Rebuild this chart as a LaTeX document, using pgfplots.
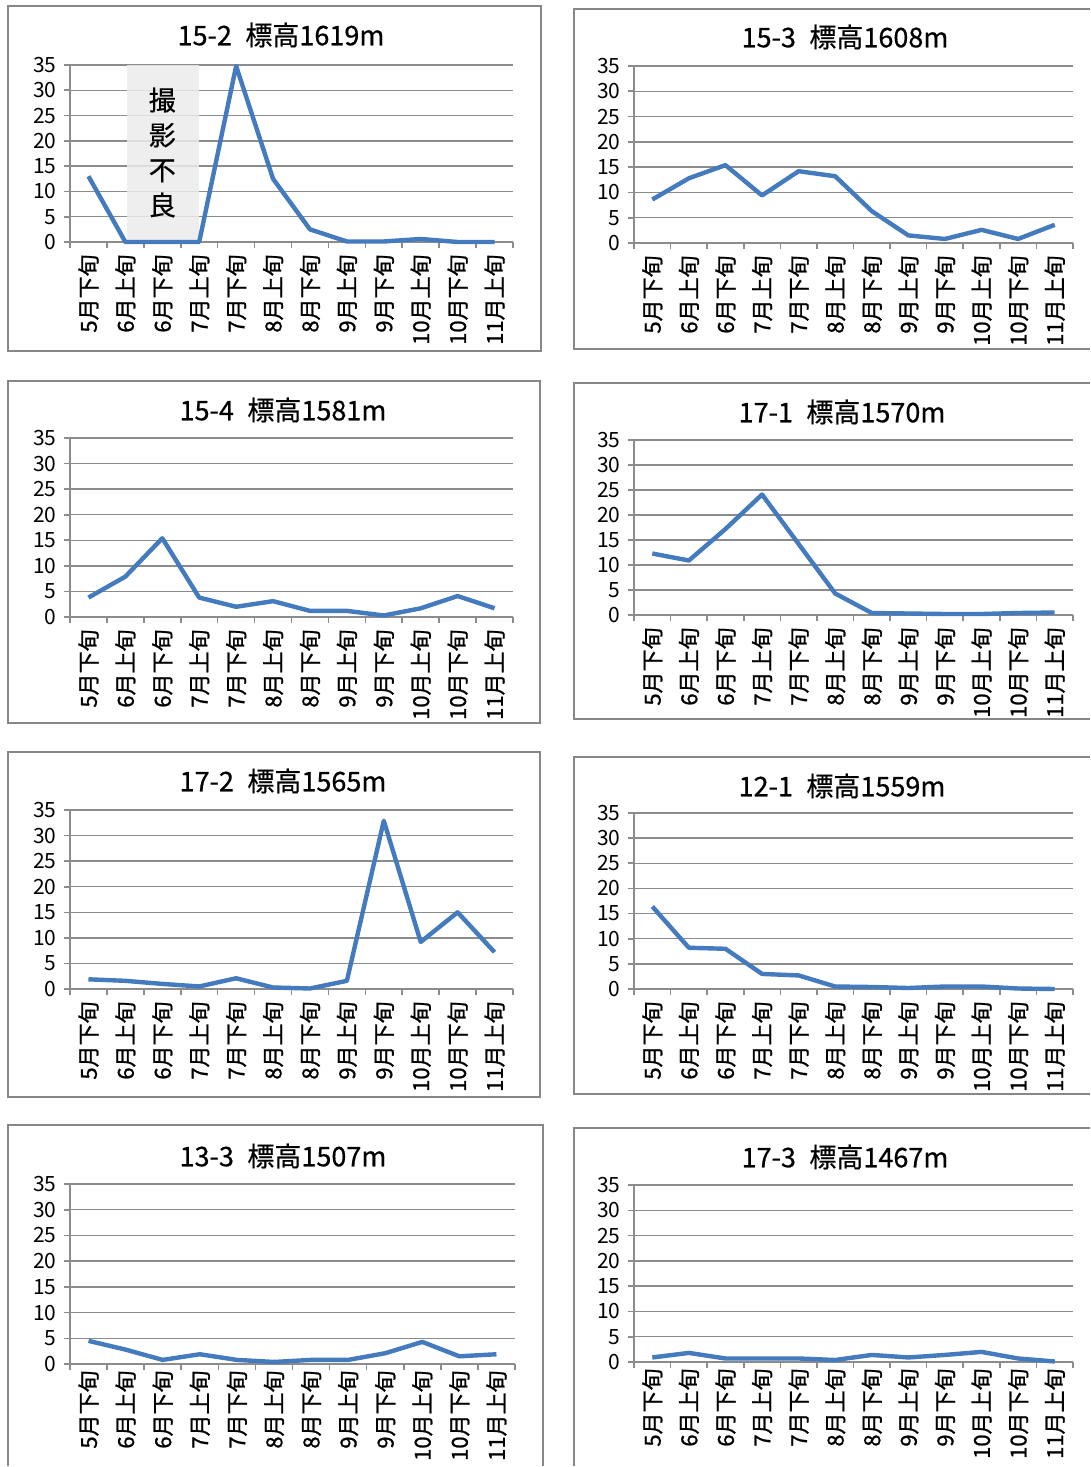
\documentclass[border=0pt]{standalone}
\usepackage{pgfplots}
\pgfplotsset{compat=1.18}
\usepackage{fontspec}
\setmainfont{Noto Sans CJK JP}
\newfontfamily\lblfont{Noto Sans CJK JP}[FakeBold=1.0]
\newfontfamily\ttlfont{Noto Sans CJK JP}[FakeBold=0.6]
\definecolor{lineblue}{RGB}{68,122,190}
\definecolor{gridc}{RGB}{140,140,140}
\definecolor{framec}{RGB}{135,135,135}
\definecolor{boxgray}{RGB}{236,236,236}
\pgfplotsset{
  panel/.style={
    scale only axis, anchor=south west,
    xmin=-0.5, xmax=11.5, ymin=0, ymax=35,
    xtick={-0.5,0.5,...,11.5}, x tick label as interval,
    xticklabels={5月下旬,6月上旬,6月下旬,7月上旬,7月下旬,8月上旬,8月下旬,9月上旬,9月下旬,10月上旬,10月下旬,11月上旬},
    ytick={0,5,...,35},
    axis x line*=bottom, axis y line*=left,
    axis line style={gridc, line width=0.8pt, -},
    ymajorgrids, major grid style={gridc, line width=0.7pt},
    tick style={gridc, line width=0.8pt},
    major tick length=3pt,
    tick align=outside,
    xticklabel style={rotate=90, anchor=east, font=\lblfont\fontsize{11}{11}\selectfont, inner sep=0pt, xshift=-3pt},
    yticklabel style={anchor=east, font=\fontsize{10.5}{11}\selectfont, inner sep=0pt, xshift=-3.5pt},
    /pgf/number format/assume math mode=true,
    clip=false,
  },
  dline/.style={lineblue, line width=2.2pt, line join=round, no markers},
}
\begin{document}
\begin{tikzpicture}
\useasboundingbox[fill=white] (0pt,0pt) rectangle (545.5pt,-733.5pt);
\begin{scope}[x=0.5pt,y=-0.5pt]
% frames
\draw[framec, line width=1.1pt] (8,6) rectangle (541,351);
\draw[framec, line width=1.1pt] (1090,9) -- (574,9) -- (574,349) -- (1090,349);
\draw[framec, line width=1.1pt] (8,381) rectangle (540,723);
\draw[framec, line width=1.1pt] (1090,383) -- (574,383) -- (574,719) -- (1090,719);
\draw[framec, line width=1.1pt] (8,752) rectangle (540,1097);
\draw[framec, line width=1.1pt] (1090,757) -- (574,757) -- (574,1094) -- (1090,1094);
\draw[framec, line width=1.1pt] (8,1466) -- (8,1125) -- (543,1125) -- (543,1466);
\draw[framec, line width=1.1pt] (574,1466) -- (574,1128) -- (1090,1128);
% titles
\tikzset{ttl/.style={font=\ttlfont\fontsize{13.5}{14}\selectfont, inner sep=0pt}}
\node[ttl] at (281,35) {15-2\enspace 標高1619m};
\node[ttl] at (845,37) {15-3\enspace 標高1608m};
\node[ttl] at (283,410) {15-4\enspace 標高1581m};
\node[ttl] at (842,412) {17-1\enspace 標高1570m};
\node[ttl] at (283,781) {17-2\enspace 標高1565m};
\node[ttl] at (842,786) {12-1\enspace 標高1559m};
\node[ttl] at (283,1156) {13-3\enspace 標高1507m};
\node[ttl] at (845,1157) {17-3\enspace 標高1467m};
\end{scope}

\begin{axis}[panel, at={(35pt,-121pt)}, width=221.5pt, height=88.5pt]
\fill[boxgray, fill opacity=0.85] (axis cs:1.05,0) rectangle (axis cs:3,35);
\node[align=center, font=\ttlfont\fontsize{13.5}{17.5}\selectfont, inner sep=0pt] at (axis cs:2,17.7) {撮\\影\\不\\良};
\addplot[dline] coordinates {(0,13.0) (1,0) (2,0) (3,0) (4,34.8) (5,12.5) (6,2.5) (7,0.1) (8,0.1) (9,0.6) (10,0) (11,0)};
\end{axis}

\begin{axis}[panel, at={(317pt,-121.5pt)}, width=219.5pt, height=88.5pt]
\addplot[dline] coordinates {(0,8.6) (1,12.8) (2,15.4) (3,9.4) (4,14.2) (5,13.2) (6,6.3) (7,1.5) (8,0.8) (9,2.6) (10,0.8) (11,3.6)};
\end{axis}

\begin{axis}[panel, at={(35pt,-308.5pt)}, width=221.5pt, height=89.5pt]
\addplot[dline] coordinates {(0,3.8) (1,7.9) (2,15.4) (3,3.8) (4,2.0) (5,3.1) (6,1.2) (7,1.2) (8,0.3) (9,1.7) (10,4.1) (11,1.7)};
\end{axis}

\begin{axis}[panel, at={(317pt,-307.5pt)}, width=219.5pt, height=87.5pt]
\addplot[dline] coordinates {(0,12.3) (1,10.9) (2,17.2) (3,24.1) (4,14.2) (5,4.3) (6,0.4) (7,0.3) (8,0.2) (9,0.2) (10,0.4) (11,0.5)};
\end{axis}

\begin{axis}[panel, at={(35pt,-494.5pt)}, width=221.5pt, height=89.5pt]
\addplot[dline] coordinates {(0,1.9) (1,1.6) (2,1.0) (3,0.5) (4,2.1) (5,0.3) (6,0.1) (7,1.6) (8,32.9) (9,9.2) (10,15.0) (11,7.2)};
\end{axis}

\begin{axis}[panel, at={(317pt,-494.5pt)}, width=219.5pt, height=88pt]
\addplot[dline] coordinates {(0,16.4) (1,8.2) (2,8.0) (3,3.0) (4,2.7) (5,0.5) (6,0.4) (7,0.2) (8,0.5) (9,0.5) (10,0.1) (11,0)};
\end{axis}

\begin{axis}[panel, at={(35pt,-682pt)}, width=222.5pt, height=90pt, xticklabel style={xshift=3pt}]
\addplot[dline] coordinates {(0,4.5) (1,2.8) (2,0.8) (3,1.9) (4,0.8) (5,0.4) (6,0.8) (7,0.8) (8,2.1) (9,4.3) (10,1.5) (11,1.9)};
\end{axis}

\begin{axis}[panel, at={(317pt,-681pt)}, width=219.5pt, height=88.5pt, xticklabel style={xshift=3pt}]
\addplot[dline] coordinates {(0,0.9) (1,1.8) (2,0.7) (3,0.7) (4,0.7) (5,0.4) (6,1.4) (7,0.9) (8,1.4) (9,2.0) (10,0.7) (11,0.1)};
\end{axis}
\end{tikzpicture}
\end{document}
